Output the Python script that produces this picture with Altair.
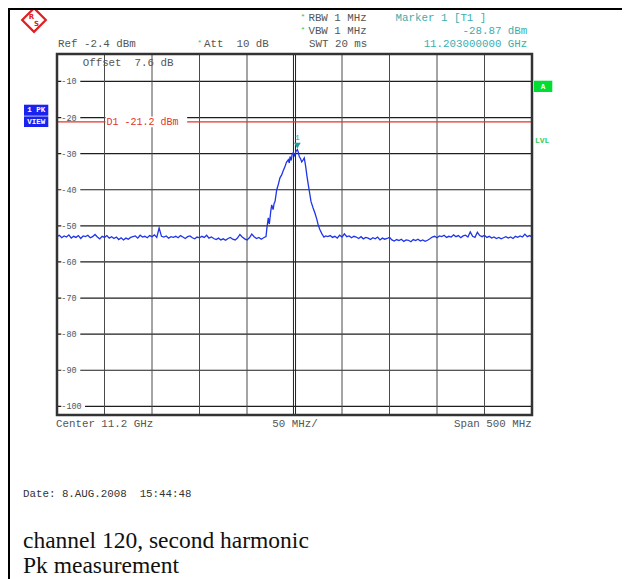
import altair as alt
import pandas as pd

# ---------------- data ----------------
sweep_start_left = 10950.0
sweep_start_right = 11235.0
sweep_step = 2.5

left_levels = [
    -53.0, -52.6, -53.3, -52.8, -53.1, -52.5, -53.4, -52.9, -53.2, -52.7,
    -53.5, -52.8, -53.0, -52.6, -53.3, -53.0, -52.4, -53.1, -53.6, -52.9,
    -53.2, -52.7, -53.4, -53.0, -53.5, -53.1, -53.8, -53.3, -53.9, -53.4,
    -53.7, -53.2, -53.0, -52.8, -53.4, -52.6, -53.1, -52.9, -53.3, -52.7,
    -53.0, -52.5, -53.2, -50.6, -52.9, -53.1, -52.8, -53.4, -53.0, -53.2,
    -52.9, -53.3, -52.7, -53.1, -53.5, -53.0, -52.8, -53.3, -53.6, -53.1,
    -53.3, -52.9, -53.2, -52.6, -53.4, -53.1, -53.5, -53.8, -53.4, -53.9,
    -53.6, -54.0, -53.5, -53.2, -53.7, -53.9, -53.4, -52.4, -53.1, -53.6,
    -53.9, -53.3, -52.3, -53.0, -53.5, -53.2, -53.7, -53.3,
]

peak_freqs = [
    11170.0, 11171.0, 11172.4, 11173.5, 11175.0, 11176.0, 11177.5, 11178.5,
    11179.5, 11181.3, 11183.0, 11184.7, 11186.5, 11188.0, 11190.0, 11191.5,
    11193.5, 11194.5, 11195.3, 11196.5, 11197.5, 11198.7, 11200.0, 11201.5,
    11203.0, 11204.0, 11205.0, 11206.5, 11207.6, 11209.0, 11210.3, 11211.8,
    11213.0, 11214.5, 11216.0, 11217.4, 11219.5, 11221.6, 11223.5, 11225.0,
    11226.8, 11229.0, 11231.0, 11233.0,
]
peak_levels = [
    -53.0, -50.5, -47.8, -49.5, -46.0, -44.2, -45.5, -43.8,
    -43.3, -40.0, -38.5, -36.7, -35.9, -34.8, -33.6, -32.4,
    -31.7, -32.6, -30.8, -31.9, -30.2, -29.7, -30.5, -29.4,
    -28.87, -29.6, -30.8, -31.5, -32.3, -31.8, -31.2, -33.6,
    -36.0, -38.6, -41.0, -43.3, -45.0, -46.5, -48.2, -49.8,
    -51.1, -52.3, -53.1, -52.8,
]

right_levels = [
    -53.0, -52.7, -53.2, -52.9, -53.4, -52.6, -53.1, -52.2, -53.0, -52.8,
    -53.3, -52.9, -53.1, -53.5, -53.0, -53.6, -53.2, -53.4, -53.8, -53.3,
    -53.6, -53.1, -53.9, -53.4, -53.7, -53.5, -53.2, -53.9, -54.2, -53.8,
    -54.1, -53.7, -54.3, -53.9, -54.0, -54.4, -53.8, -54.1, -53.7, -54.2,
    -53.9, -54.3, -54.0, -53.6, -53.1, -52.9, -53.3, -52.8, -53.0, -52.6,
    -53.2, -52.9, -53.1, -52.5, -53.0, -52.7, -53.3, -52.8, -52.6, -53.1,
    -51.7, -52.9, -53.2, -51.8, -52.7, -53.0, -52.6, -53.2, -52.9, -53.4,
    -53.1, -53.5, -53.2, -53.6, -53.3, -53.0, -53.4, -53.1, -53.5, -52.9,
    -53.2, -52.8, -53.1, -52.3, -53.0, -52.7, -53.1,
]

grid_db = [-10, -20, -30, -40, -50, -60, -70, -80, -90, -100]
grid_labels = ["-10", "-20", "-30", "-40", "-50", "-60", "-70", "-80", "-90", "-100"]
grid_mhz = [11000, 11050, 11100, 11150, 11250, 11300, 11350, 11400]
center_mhz = 11200
span_lo, span_hi = 10950, 11450
ref_top, ref_bottom = -2.4, -102.4
display_line_db = -21.2
marker_mhz = 11203.0
marker_db = -28.87

# ---------------- build ----------------
NB = "\u00a0"
left_freqs = [sweep_start_left + sweep_step * i for i in range(len(left_levels))]
right_freqs = [sweep_start_right + sweep_step * i for i in range(len(right_levels))]
trace = pd.DataFrame({
    "f": left_freqs + peak_freqs + right_freqs,
    "db": left_levels + peak_levels + right_levels,
})

W, H = 475, 361
XS = alt.Scale(domain=[span_lo, span_hi], nice=False, zero=False)
YS = alt.Scale(domain=[ref_bottom, ref_top], nice=False, zero=False)

GRAY = "#555555"
TEAL = "#3aaeb0"
RED = "#e8302a"
MONO = "Liberation Mono"


def X(field):
    return alt.X(field, scale=XS, axis=None)


def Y(field):
    return alt.Y(field, scale=YS, axis=None)


def sp(s):
    return s.replace(" ", NB)


hgrid_df = pd.DataFrame({"db": grid_db, "x0": span_lo, "x1": span_hi})
hgrid = alt.Chart(hgrid_df).mark_rule(color="#1e1e1e", strokeWidth=1.2).encode(
    x=X("x0:Q"), x2="x1:Q", y=Y("db:Q"))

vgrid = alt.Chart(pd.DataFrame({"f": grid_mhz})).mark_rule(color="#4a4a4a", strokeWidth=1).encode(
    x=X("f:Q"), y=alt.value(0), y2=alt.value(H))

cgrid = alt.Chart(pd.DataFrame({"f": [center_mhz - 1.1, center_mhz + 1.1]})).mark_rule(
    color="#222222", strokeWidth=1).encode(x=X("f:Q"), y=alt.value(0), y2=alt.value(H))

lab_df = pd.DataFrame({"db": grid_db, "lab": grid_labels})
lab_df["x0"] = span_lo + 4.5
lab_df["x1"] = [span_lo + (24.5 if len(s) < 4 else 29.5) for s in grid_labels]
lab_df["y0"] = lab_df["db"] - 1.6
lab_df["y1"] = lab_df["db"] + 1.6
lab_bg = alt.Chart(lab_df).mark_rect(color="white").encode(
    x=X("x0:Q"), x2="x1:Q", y=Y("y0:Q"), y2="y1:Q")
lab_txt = alt.Chart(lab_df).mark_text(
    align="left", baseline="middle", font=MONO, fontSize=8.5, color=GRAY).encode(
    x=X("x0:Q"), y=Y("db:Q"), text="lab:N")

d1_df = pd.DataFrame({"db": [display_line_db], "x0": [span_lo], "x1": [span_hi],
                      "bx0": [span_lo + 51], "bx1": [span_lo + 137],
                      "t": [sp(f"D1 {display_line_db} dBm")]})
d1_df["by0"] = d1_df["db"] - 1.5
d1_df["by1"] = d1_df["db"] + 1.5
d1 = alt.Chart(d1_df).mark_rule(color=RED, strokeWidth=1.2).encode(
    x=X("x0:Q"), x2="x1:Q", y=Y("db:Q"))
d1_bg = alt.Chart(d1_df).mark_rect(color="white").encode(
    x=X("bx0:Q"), x2="bx1:Q", y=Y("by0:Q"), y2="by1:Q")
d1_txt = alt.Chart(d1_df).mark_text(
    align="left", baseline="middle", font=MONO, fontSize=10, color=RED, dx=1).encode(
    x=X("bx0:Q"), y=Y("db:Q"), text="t:N")

line = alt.Chart(trace).mark_line(color="#1f35e8", strokeWidth=1.3, interpolate="linear").encode(
    x=X("f:Q"), y=Y("db:Q"), order=alt.Order("f:Q"))

mk_df = pd.DataFrame({"f": [marker_mhz], "db": [marker_db], "t": ["1"]})
mk = alt.Chart(mk_df).mark_point(shape="triangle-down", filled=True, color="#1f9ea0",
                                 size=45, opacity=1, yOffset=-4).encode(x=X("f:Q"), y=Y("db:Q"))
mk_t = alt.Chart(mk_df).mark_text(font=MONO, fontSize=8, color="#1f9ea0", dy=-12).encode(
    x=X("f:Q"), y=Y("db:Q"), text="t:N")

frame = alt.Chart(pd.DataFrame({"a": [0]})).mark_rect(
    fillOpacity=0, stroke="#333333", strokeWidth=2.5).encode(
    x=alt.value(0), x2=alt.value(W), y=alt.value(0), y2=alt.value(H))


def txt(rows, **kw):
    df = pd.DataFrame(rows, columns=["t", "px", "py"])
    df["t"] = df["t"].map(sp)
    return alt.Chart(df).mark_text(**kw).encode(
        x=alt.X("px:Q", scale=None, axis=None),
        y=alt.Y("py:Q", scale=None, axis=None),
        text="t:N")


gray_left = txt([
    ["RBW 1 MHz", 251.4, -36.3],
    ["VBW 1 MHz", 251.4, -23],
    ["Ref -2.4 dBm", 1, -9.7],
    ["Att  10 dB", 147, -9.7],
    ["SWT 20 ms", 252, -9.7],
    ["Offset  7.6 dB", 25.7, 9],
    ["Center 11.2 GHz", -1, 370],
], align="left", baseline="middle", font=MONO, fontSize=10.8, color=GRAY)
gray_center = txt([["50 MHz/", 238, 370]], align="center", baseline="middle",
                  font=MONO, fontSize=10.8, color=GRAY)
gray_right = txt([["Span 500 MHz", 474.7, 370]], align="right", baseline="middle",
                 font=MONO, fontSize=10.8, color=GRAY)
stars = txt([["*", 246, -37.5], ["*", 246, -24.2], ["*", 142.6, -10.9]],
            align="center", baseline="middle", font=MONO, fontSize=8, color="#22cc44")
teal_left = txt([["Marker 1 [T1 ]", 338.6, -36.3]], align="left", baseline="middle",
                font=MONO, fontSize=10.8, color=TEAL)
teal_right = txt([["-28.87 dBm", 470.3, -23], ["11.203000000 GHz", 470.3, -9.7]],
                 align="right", baseline="middle", font=MONO, fontSize=10.8, color=TEAL)
date_t = txt([["Date: 8.AUG.2008  15:44:48", -34, 440]], align="left", baseline="middle",
             font=MONO, fontSize=10.8, color="#333333")
caption = txt([["channel 120, second harmonic", -34, 494], ["Pk measurement", -34, 519]],
              align="left", baseline="alphabetic", font="Liberation Serif", fontSize=23.5,
              color="#111111")

boxes_df = pd.DataFrame({
    "x0": [-33, -33, 477], "x1": [-8.7, -8.7, 495.3],
    "y0": [50.7, 62.4, 26.7], "y1": [61.7, 73, 38],
    "c": ["#1a22ee", "#1a22ee", "#00dd33"],
})
boxes = alt.Chart(boxes_df).mark_rect().encode(
    x=alt.X("x0:Q", scale=None, axis=None), x2="x1:Q",
    y=alt.Y("y0:Q", scale=None, axis=None), y2="y1:Q",
    color=alt.Color("c:N", scale=None))
box_txt = txt([["1 PK", -20.8, 56.4], ["VIEW", -20.8, 67.8], ["A", 486, 32.5]],
              align="center", baseline="middle", font=MONO, fontSize=7.5,
              fontWeight="bold", color="white")
lvl = txt([["LVL", 478, 87.4]], align="left", baseline="middle", font=MONO, fontSize=8,
          fontWeight="bold", color="#33cc55")

logo = alt.Chart(pd.DataFrame({"px": [-23], "py": [-34]})).mark_point(
    shape="diamond", filled=False, color="#e02020", strokeWidth=2.2, size=560, opacity=1).encode(
    x=alt.X("px:Q", scale=None, axis=None), y=alt.Y("py:Q", scale=None, axis=None))
logo_t = txt([["R", -25.5, -37], ["S", -20.5, -30]], align="center", baseline="middle",
             font="DejaVu Sans", fontSize=7, fontWeight="bold", color="#e02020")

border_left = alt.Chart(pd.DataFrame({"a": [0]})).mark_rule(color="black", strokeWidth=2).encode(
    x=alt.value(-48), y=alt.value(-46), y2=alt.value(530))
border_top = alt.Chart(pd.DataFrame({"a": [0]})).mark_rule(color="black", strokeWidth=2).encode(
    x=alt.value(-48), x2=alt.value(565), y=alt.value(-45))

chart = alt.layer(
    hgrid, vgrid, cgrid, lab_bg, lab_txt, d1, d1_bg, d1_txt, line, mk, mk_t, frame,
    gray_left, gray_center, gray_right, stars, teal_left, teal_right, date_t, caption,
    boxes, box_txt, lvl, logo, logo_t, border_left, border_top,
).resolve_scale(x="independent", y="independent").properties(
    width=W, height=H,
    autosize=alt.AutoSizeParams(type="none"),
    padding={"left": 49, "top": 46, "right": 90, "bottom": 164},
).configure_view(stroke=None)

chart.save("out.html", embed_options={"renderer": "svg", "actions": False})
